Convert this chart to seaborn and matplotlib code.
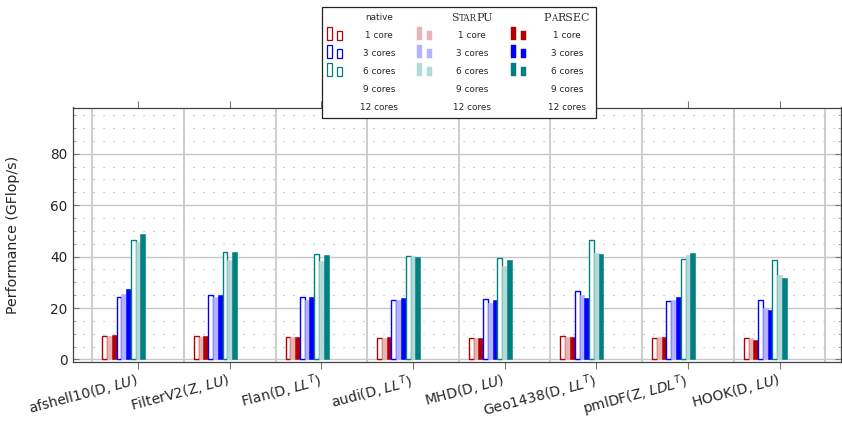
import numpy as np
import pandas as pd
import matplotlib
matplotlib.use("Agg")
import matplotlib.pyplot as plt
from matplotlib.patches import Rectangle
from matplotlib.ticker import FixedLocator, MultipleLocator
from matplotlib.offsetbox import TextArea, HPacker, AnnotationBbox
from matplotlib.transforms import ScaledTranslation
import seaborn as sns

# ---- data (GFlop/s) ----
matrices = ["afshell10(D, $LU$)", "FilterV2(Z, $LU$)", "Flan(D, $LL^T$)",
            "audi(D, $LL^T$)", "MHD(D, $LU$)", "Geo1438(D, $LL^T$)",
            "pmlDF(Z, $LDL^T$)", "HOOK(D, $LU$)"]
solvers = ["native", "StarPU", "PaRSEC"]
core_counts = [1, 3, 6, 9, 12]
core_labels = ["1 core", "3 cores", "6 cores", "9 cores", "12 cores"]

native_1 = [9.2, 9.0, 8.8, 8.5, 8.5, 9.2, 8.5, 8.5]
starpu_1 = [9.0, 8.6, 8.6, 8.2, 8.2, 8.6, 8.6, 8.3]
parsec_1 = [9.35, 9.0, 8.8, 8.7, 8.5, 8.6, 8.7, 7.4]
native_3 = [24.4, 25.2, 24.4, 23.1, 23.7, 26.5, 22.6, 23.3]
starpu_3 = [25.6, 24.2, 23.0, 23.1, 22.1, 24.9, 23.0, 19.9]
parsec_3 = [27.3, 25.1, 24.3, 23.8, 23.0, 23.8, 24.4, 19.2]
native_6 = [46.3, 41.6, 41.2, 40.4, 39.4, 46.3, 38.9, 38.6]
starpu_6 = [45.5, 38.5, 38.2, 40.2, 36.3, 41.3, 40.8, 32.7]
parsec_6 = [48.6, 41.6, 40.7, 39.8, 38.6, 41.2, 41.3, 31.6]

measured = {
    ("native", 1): native_1, ("StarPU", 1): starpu_1, ("PaRSEC", 1): parsec_1,
    ("native", 3): native_3, ("StarPU", 3): starpu_3, ("PaRSEC", 3): parsec_3,
    ("native", 6): native_6, ("StarPU", 6): starpu_6, ("PaRSEC", 6): parsec_6,
}

# colours per core count: dark (ParSEC / native outline) and light (StarPU)
dark = {1: "#B30000", 3: "#0000FF", 6: "#008080", 9: "#555555", 12: "#333333"}
light = {1: "#E8B3B3", 3: "#B3B3FF", 6: "#B3D9D9", 9: "#DDDDDD", 12: "#CCCCCC"}

# all 15 series (9 and 12 cores have no measurements)
series_order = [f"{s} {c}" for c in core_counts for s in solvers]
palette = {}
for c in core_counts:
    palette[f"native {c}"] = dark[c]
    palette[f"StarPU {c}"] = light[c]
    palette[f"PaRSEC {c}"] = dark[c]

rows = []
for (s, c), vals in measured.items():
    for m, v in zip(matrices, vals):
        rows.append({"matrix": m, "series": f"{s} {c}", "perf": v})
df = pd.DataFrame(rows)

# ---- figure ----
sns.set_style("white")
plt.rcParams["font.family"] = ["DejaVu Sans"]
plt.rcParams["mathtext.fontset"] = "dejavusans"

W, H = 842, 422
fig = plt.figure(figsize=(W / 100, H / 100), dpi=100)
ax = fig.add_axes([73 / W, 1 - 362 / H, (841 - 73) / W, (362 - 107.5) / H])

sns.barplot(data=df, x="matrix", y="perf", hue="series", hue_order=series_order,
            order=matrices, palette=palette, width=72 / 92, dodge=True,
            saturation=1, errorbar=None, legend=False, linewidth=0, ax=ax,
            zorder=3)

# native bars are drawn hollow
present = [s for s in series_order if s in set(df["series"])]
for name, cont in zip(present, ax.containers):
    c = int(name.split()[1])
    for p in cont.patches:
        if name.startswith("native"):
            p.set_facecolor("white")
            p.set_edgecolor(dark[c])
            p.set_linewidth(1.0)
        else:
            p.set_edgecolor(p.get_facecolor())
            p.set_linewidth(0.4)

ax.set_xlim(-0.71, 7.67)
ax.set_ylim(-1, 98)
ax.set_yticks([0, 20, 40, 60, 80])
ax.yaxis.set_minor_locator(MultipleLocator(5))
ax.xaxis.set_minor_locator(FixedLocator(np.arange(-0.5, 8.0, 1.0)))

ax.grid(which="major", axis="y", color="#c8c8c8", linewidth=1.0, zorder=0)
ax.grid(which="minor", axis="y", color="#b0b0b0", linewidth=0.8,
        linestyle=(0, (1, 8)), zorder=0)
ax.grid(which="minor", axis="x", color="#c0c0c0", linewidth=1.1, zorder=0)
ax.grid(which="major", axis="x", visible=False)
ax.set_axisbelow(True)

for sp in ax.spines.values():
    sp.set_color("#444444")
    sp.set_linewidth(0.9)

ax.tick_params(axis="x", which="major", direction="out", length=5, width=0.8,
               color="#777777", top=True, bottom=True, pad=1.5)
ax.tick_params(axis="x", which="minor", length=0)
ax.tick_params(axis="y", which="major", direction="in", length=4, width=0.8,
               color="#777777", left=True, right=True, labelsize=9.8, pad=4)
ax.tick_params(axis="y", which="minor", direction="in", length=2.5, width=0.6,
               color="#999999", left=True, right=True)

ax.set_xticks(range(len(matrices)))
ax.set_xticklabels(matrices, rotation=15, ha="right", va="top",
                   rotation_mode="anchor", fontsize=10)
shift = ScaledTranslation(-3 / 100, 0, fig.dpi_scale_trans)
for t in ax.get_xticklabels():
    t.set_transform(t.get_transform() + shift)
ax.set_xlabel("")
ax.set_ylabel("Performance (GFlop/s)", fontsize=10.2, labelpad=22)

# ---- legend box drawn in pixel coordinates ----
lax = fig.add_axes([0, 0, 1, 1], zorder=10)
lax.set_xlim(0, W)
lax.set_ylim(H, 0)
lax.axis("off")
lax.add_patch(Rectangle((321.5, 7), 274.5, 111, facecolor="white",
                        edgecolor="#222222", linewidth=0.9))

lbl_fs = 6.4
row_y = [35.7 + 18 * i for i in range(5)]
col_glyph_x = {"native": 327, "StarPU": 417, "PaRSEC": 511}
col_text_x = {"native": 379, "StarPU": 472, "PaRSEC": 567}

lax.text(col_text_x["native"], 17.7, "native", ha="center", va="center",
         fontsize=lbl_fs)


def small_caps(word_parts, x, y):
    boxes = []
    for txt, big in word_parts:
        boxes.append(TextArea(txt, textprops=dict(
            fontsize=8.0 if big else 6.2, family="DejaVu Serif", color="#333333")))
    pack = HPacker(children=boxes, align="baseline", pad=0, sep=0)
    ab = AnnotationBbox(pack, (x, y), xycoords="data", frameon=False,
                        box_alignment=(0.5, 0.5), pad=0)
    lax.add_artist(ab)


small_caps([("S", True), ("TAR", False), ("PU", True)], col_text_x["StarPU"], 17.7)
small_caps([("P", True), ("A", False), ("RSEC", True)], col_text_x["PaRSEC"], 17.7)

for s in solvers:
    for i, (c, lab) in enumerate(zip(core_counts, core_labels)):
        y = row_y[i]
        lax.text(col_text_x[s], y, lab, ha="center", va="center", fontsize=lbl_fs)
        if c not in (1, 3, 6):
            continue
        gx = col_glyph_x[s]
        for dx, top in ((0, 8.4), (10, 5.0)):
            if s == "native":
                kw = dict(facecolor="white", edgecolor=dark[c], linewidth=0.9)
            elif s == "StarPU":
                kw = dict(facecolor=light[c], edgecolor=light[c], linewidth=0.3)
            else:
                kw = dict(facecolor=dark[c], edgecolor=dark[c], linewidth=0.3)
            lax.add_patch(Rectangle((gx + dx, y - top), 5, top + 4.3, **kw))

fig.savefig("out.png", dpi=100)
